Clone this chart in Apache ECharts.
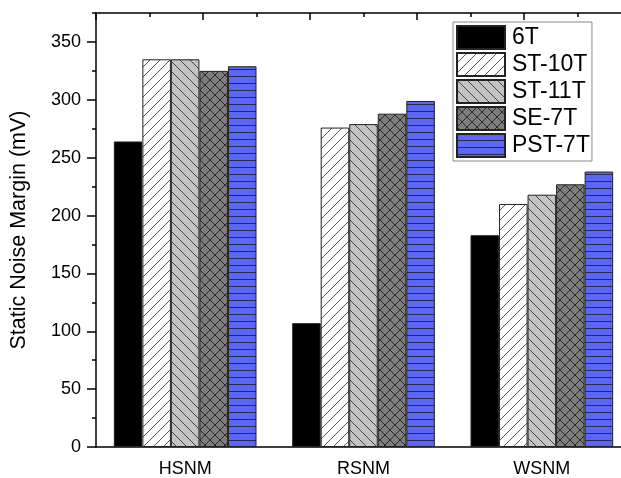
<!DOCTYPE html>
<html>
<head>
<meta charset="utf-8">
<script src="https://cdn.jsdelivr.net/npm/echarts@6/dist/echarts.min.js"></script>
<style>
  html, body { margin: 0; padding: 0; background: #fff; }
  #chart { width: 621px; height: 478px; }
</style>
</head>
<body>
<div id="chart"></div>
<script>
const categories = ['HSNM', 'RSNM', 'WSNM'];
const seriesNames = ['6T', 'ST-10T', 'ST-11T', 'SE-7T', 'PST-7T'];
const val6T = [264, 107, 183];
const valST10T = [335, 276, 210];
const valST11T = [335, 279, 218];
const valSE7T = [325, 288, 227];
const valPST7T = [329, 299, 238];
const yTicks = [0, 375, 50];

// hatch patterns drawn on a small canvas tile
function makeTile(w, h, bg, draw) {
  const c = document.createElement('canvas');
  c.width = w;
  c.height = h;
  const ctx = c.getContext('2d');
  ctx.fillStyle = bg;
  ctx.fillRect(0, 0, w, h);
  ctx.lineWidth = 1;
  draw(ctx);
  return { image: c, repeat: 'repeat' };
}

const solidBlack = '#000';
const hatchFwd = makeTile(10, 10, '#fff', function (ctx) {
  ctx.strokeStyle = '#555';
  ctx.beginPath();
  ctx.moveTo(-1, 11); ctx.lineTo(11, -1);
  ctx.moveTo(-6, 6); ctx.lineTo(6, -6);
  ctx.moveTo(4, 16); ctx.lineTo(16, 4);
  ctx.stroke();
});
const hatchBack = makeTile(10, 10, '#c3c3c3', function (ctx) {
  ctx.strokeStyle = '#444';
  ctx.beginPath();
  ctx.moveTo(-1, -1); ctx.lineTo(11, 11);
  ctx.moveTo(-6, 4); ctx.lineTo(6, 16);
  ctx.moveTo(4, -6); ctx.lineTo(16, 6);
  ctx.stroke();
});
const hatchCross = makeTile(10, 10, '#7d7d7d', function (ctx) {
  ctx.strokeStyle = '#2a2a2a';
  ctx.beginPath();
  ctx.moveTo(-1, -1); ctx.lineTo(11, 11);
  ctx.moveTo(-1, 11); ctx.lineTo(11, -1);
  ctx.stroke();
});
const hatchHoriz = makeTile(8, 7, '#5a66f4', function (ctx) {
  ctx.strokeStyle = '#262a55';
  ctx.beginPath();
  ctx.moveTo(0, 6.5); ctx.lineTo(8, 6.5);
  ctx.stroke();
});

const fills = [solidBlack, hatchFwd, hatchBack, hatchCross, hatchHoriz];
const values = [val6T, valST10T, valST11T, valSE7T, valPST7T];

const font = 'Liberation Sans';
const myChart = echarts.init(document.getElementById('chart'));

const option = {
  backgroundColor: '#fff',
  animation: false,
  textStyle: { fontFamily: font },
  grid: {
    left: 96,
    top: 13,
    width: 535,
    height: 434,
    containLabel: false,
    outerBoundsMode: 'none', // plot runs past the right edge, like the cropped original
  },
  legend: {
    data: seriesNames,
    orient: 'vertical',
    left: 453,
    top: 22,
    padding: [3, 2, 3, 3],
    itemWidth: 48,
    itemHeight: 23,
    itemGap: 2,
    icon: 'rect',
    borderColor: '#8a8a8a',
    borderWidth: 1,
    backgroundColor: '#fff',
    textStyle: { fontSize: 23, lineHeight: 23, color: '#000', fontFamily: font, padding: [0, 0, 0, 2] },
  },
  xAxis: [
    {
      type: 'category',
      data: categories,
      position: 'bottom',
      axisLine: { lineStyle: { color: '#000', width: 1.5 } },
      axisTick: { alignWithLabel: true, length: 7, lineStyle: { color: '#000', width: 1.5 } },
      axisLabel: { fontSize: 18, color: '#000', margin: 13, fontFamily: font },
      splitLine: { show: false },
    },
    {
      type: 'category',
      data: categories,
      position: 'bottom',
      axisLine: { show: false },
      axisTick: { alignWithLabel: false, length: 4, lineStyle: { color: '#000', width: 1.5 } },
      axisLabel: { show: false },
      splitLine: { show: false },
    },
    {
      type: 'value',
      position: 'top',
      min: 0,
      max: 5,
      interval: 1,
      axisLine: { show: true, lineStyle: { color: '#000', width: 1.5 } },
      axisTick: { show: true, inside: true, length: 7, lineStyle: { color: '#000', width: 1.5 } },
      minorTick: { show: true, splitNumber: 2, length: 4, lineStyle: { color: '#000', width: 1.5 } },
      axisLabel: { show: false },
      splitLine: { show: false },
    },
  ],
  yAxis: [
    {
      type: 'value',
      min: yTicks[0],
      max: yTicks[1],
      interval: yTicks[2],
      name: 'Static Noise Margin (mV)',
      nameLocation: 'middle',
      nameGap: 66,
      nameTextStyle: { fontSize: 21.5, color: '#000', fontFamily: font },
      axisLine: { show: true, lineStyle: { color: '#000', width: 1.5 } },
      axisTick: { show: true, length: 9, lineStyle: { color: '#000', width: 1.5 } },
      axisLabel: { fontSize: 18, color: '#000', margin: 15, showMaxLabel: false, fontFamily: font },
      splitLine: { show: false },
    },
    {
      type: 'value',
      min: yTicks[0],
      max: yTicks[1],
      interval: yTicks[2] / 2,
      position: 'left',
      axisLine: { show: false },
      axisTick: { show: true, length: 4, lineStyle: { color: '#000', width: 1.5 } },
      axisLabel: { show: false },
      splitLine: { show: false },
    },
  ],
  series: [],
};

seriesNames.forEach(function (name, i) {
  option.series.push({
    name: name,
    type: 'bar',
    xAxisIndex: 0,
    yAxisIndex: 0,
    data: values[i],
    barGap: '0%',
    barCategoryGap: '20%',
    itemStyle: {
      color: fills[i],
      borderColor: '#222',
      borderWidth: 1,
    },
  });
});

myChart.setOption(option);
</script>
</body>
</html>
